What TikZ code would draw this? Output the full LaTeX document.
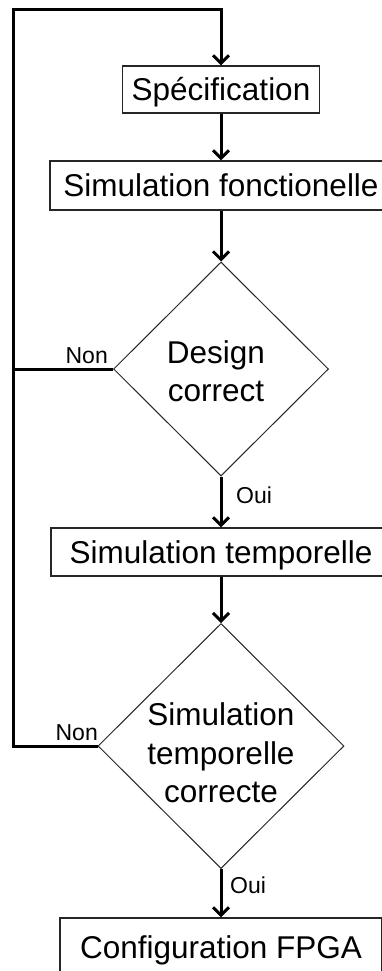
\documentclass[tikz,border=0pt]{standalone}
\usepackage{fontspec}
\setmainfont{Liberation Sans}
\usetikzlibrary{shapes.geometric,arrows.meta}
\begin{document}
\begin{tikzpicture}[x=1pt,y=-1pt,
  flow/.style={line width=3pt, line join=miter},
  arr/.style={flow, -{Straight Barb[length=8pt,width=16pt]}},
  stepbox/.style={draw=black!85, line width=1.1pt, rectangle, inner sep=0pt,
    font=\fontsize{31.5}{38.5}\selectfont, text height=22.6pt, text depth=0pt},
  decision/.style={draw=black!85, line width=1pt, diamond, inner sep=0pt, aspect=1},
  dectext/.style={align=center, font=\fontsize{31.5}{38.5}\selectfont, inner sep=0pt},
  branch/.style={font=\fontsize{23}{27}\selectfont, inner sep=0pt}]
\useasboundingbox (0,0) rectangle (382,971);
\fill[white] (0,0) rectangle (382,971);
\clip (0,0) rectangle (382,971);

% process steps and decisions
\node[stepbox, minimum width=197pt, minimum height=47pt] (spec) at (221,89.5) {Spécification};
\node[stepbox, minimum width=342pt, minimum height=49pt] (simf) at (221,185.5) {Simulation fonctionelle};
\node[decision, minimum width=215pt, minimum height=214pt] (d1) at (221,369) {};
\node[dectext] (d1t) at (216,371) {Design\\correct};
\node[stepbox, minimum width=340pt, minimum height=48pt] (simt) at (221,552) {Simulation temporelle};
\node[decision, minimum width=246pt, minimum height=245pt] (d2) at (221,746) {};
\node[dectext] (d2t) at (221,753) {Simulation\\temporelle\\correcte};
\node[stepbox, minimum width=322pt, minimum height=58pt] (cfg) at (221,947) {Configuration FPGA};

% branch labels
\node[branch, anchor=base east] (non1) at (108,363) {Non};
\node[branch, anchor=base east] (non2) at (98,740) {Non};
\node[branch, anchor=base west] (oui1) at (236,503) {Oui};
\node[branch, anchor=base west] (oui2) at (230,893) {Oui};

% feedback loop back to the specification
\coordinate (looptop) at (13,10);
\coordinate (loopbot) at (13,746);
\draw[arr] (d2.west) -- (loopbot) -- (looptop) -| (spec.north);
\draw[flow] (d1.west) -- (d1.west -| looptop);

% main flow
\draw[arr] (spec.south) -- (simf.north);
\draw[arr] (simf.south) -- (d1.north);
\draw[arr] (d1.south) -- (simt.north);
\draw[arr] (simt.south) -- (d2.north);
\draw[arr] (d2.south) -- (cfg.north);
\end{tikzpicture}
\end{document}
